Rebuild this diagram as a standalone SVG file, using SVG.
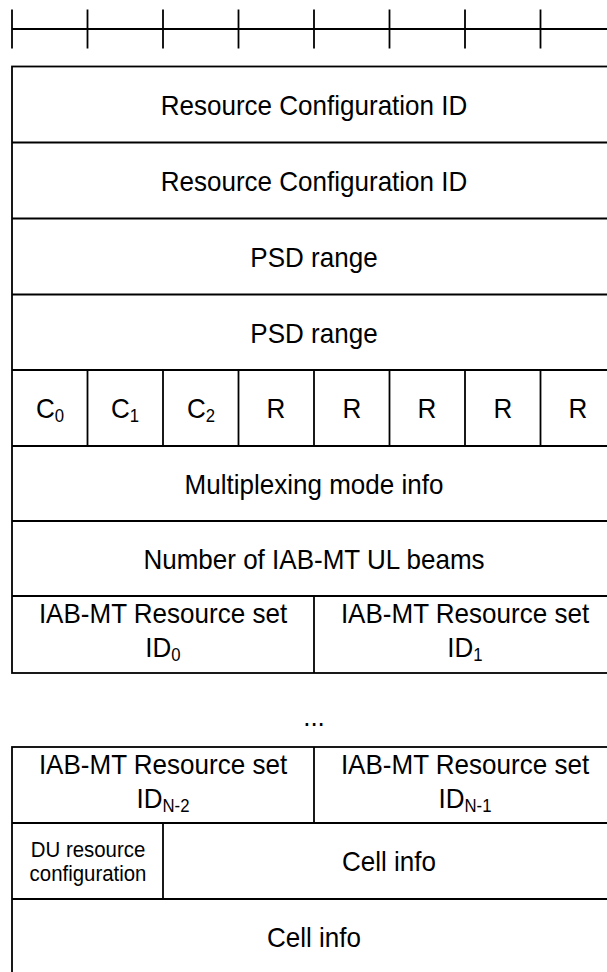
<svg xmlns="http://www.w3.org/2000/svg" width="607" height="972" viewBox="0 0 607 972">
<style>
.ln{stroke:#000;stroke-width:1.8;fill:none}
.t{font-family:"Liberation Sans",Arial,sans-serif;font-size:28px;fill:#000;text-anchor:middle}
.s{font-family:"Liberation Sans",Arial,sans-serif;font-size:21.5px;fill:#000;text-anchor:middle}
.sub{font-size:18px}
</style>
<rect width="607" height="972" fill="#fff"/>
<g id="ruler" class="ln">
<line x1="12" y1="29" x2="607" y2="29"/>
<line x1="12" y1="9.5" x2="12" y2="48.5"/>
<line x1="87.5" y1="9.5" x2="87.5" y2="48.5"/>
<line x1="163" y1="9.5" x2="163" y2="48.5"/>
<line x1="238.5" y1="9.5" x2="238.5" y2="48.5"/>
<line x1="314" y1="9.5" x2="314" y2="48.5"/>
<line x1="389.5" y1="9.5" x2="389.5" y2="48.5"/>
<line x1="465" y1="9.5" x2="465" y2="48.5"/>
<line x1="540.5" y1="9.5" x2="540.5" y2="48.5"/>
</g>
<g id="box1" class="ln">
<rect x="12" y="66.5" width="604" height="606.5"/>
<line x1="12" y1="142.5" x2="616" y2="142.5"/>
<line x1="12" y1="218.5" x2="616" y2="218.5"/>
<line x1="12" y1="294.5" x2="616" y2="294.5"/>
<line x1="12" y1="370" x2="616" y2="370"/>
<line x1="12" y1="446" x2="616" y2="446"/>
<line x1="12" y1="521" x2="616" y2="521"/>
<line x1="12" y1="596" x2="616" y2="596"/>
<line x1="87.5" y1="370" x2="87.5" y2="446"/>
<line x1="163" y1="370" x2="163" y2="446"/>
<line x1="238.5" y1="370" x2="238.5" y2="446"/>
<line x1="314" y1="370" x2="314" y2="446"/>
<line x1="389.5" y1="370" x2="389.5" y2="446"/>
<line x1="465" y1="370" x2="465" y2="446"/>
<line x1="540.5" y1="370" x2="540.5" y2="446"/>
<line x1="314" y1="596" x2="314" y2="673"/>
</g>
<g id="row-rcid1"><text class="t" transform="translate(314 115) scale(0.93 1)">Resource Configuration ID</text></g>
<g id="row-rcid2"><text class="t" transform="translate(314 191) scale(0.93 1)">Resource Configuration ID</text></g>
<g id="row-psd1"><text class="t" transform="translate(314 267) scale(0.93 1)">PSD range</text></g>
<g id="row-psd2"><text class="t" transform="translate(314 343) scale(0.93 1)">PSD range</text></g>
<g id="row-c">
<text class="t" transform="translate(50 418) scale(0.93 1)">C<tspan class="sub" dy="4">0</tspan></text>
<text class="t" transform="translate(125 418) scale(0.93 1)">C<tspan class="sub" dy="4">1</tspan></text>
<text class="t" transform="translate(201 418) scale(0.93 1)">C<tspan class="sub" dy="4">2</tspan></text>
<text class="t" transform="translate(276 418) scale(0.93 1)">R</text>
<text class="t" transform="translate(352 418) scale(0.93 1)">R</text>
<text class="t" transform="translate(427 418) scale(0.93 1)">R</text>
<text class="t" transform="translate(503 418) scale(0.93 1)">R</text>
<text class="t" transform="translate(578 418) scale(0.93 1)">R</text>
</g>
<g id="row-mux"><text class="t" transform="translate(314 494) scale(0.93 1)">Multiplexing mode info</text></g>
<g id="row-beams"><text class="t" transform="translate(314 569) scale(0.93 1)">Number of IAB-MT UL beams</text></g>
<g id="row-rs01">
<text class="t" transform="translate(163 623) scale(0.93 1)">IAB-MT Resource set</text>
<text class="t" transform="translate(163 657) scale(0.93 1)">ID<tspan class="sub" dy="4">0</tspan></text>
<text class="t" transform="translate(465 623) scale(0.93 1)">IAB-MT Resource set</text>
<text class="t" transform="translate(465 657) scale(0.93 1)">ID<tspan class="sub" dy="4">1</tspan></text>
</g>
<g id="ellipsis"><text class="t" transform="translate(314 726) scale(0.93 1)">...</text></g>
<g id="box2" class="ln">
<rect x="12" y="747" width="604" height="240"/>
<line x1="12" y1="823" x2="616" y2="823"/>
<line x1="12" y1="899" x2="616" y2="899"/>
<line x1="314" y1="747" x2="314" y2="823"/>
<line x1="163" y1="823" x2="163" y2="899"/>
</g>
<g id="row-rsN">
<text class="t" transform="translate(163 774) scale(0.93 1)">IAB-MT Resource set</text>
<text class="t" transform="translate(163 808) scale(0.93 1)">ID<tspan class="sub" dy="4">N-2</tspan></text>
<text class="t" transform="translate(465 774) scale(0.93 1)">IAB-MT Resource set</text>
<text class="t" transform="translate(465 808) scale(0.93 1)">ID<tspan class="sub" dy="4">N-1</tspan></text>
</g>
<g id="row-du">
<text class="s" transform="translate(88 857) scale(0.95 1)">DU resource</text>
<text class="s" transform="translate(88 881) scale(0.95 1)">configuration</text>
<text class="t" transform="translate(389 871) scale(0.93 1)">Cell info</text>
</g>
<g id="row-cell"><text class="t" transform="translate(314 947) scale(0.93 1)">Cell info</text></g>
</svg>
